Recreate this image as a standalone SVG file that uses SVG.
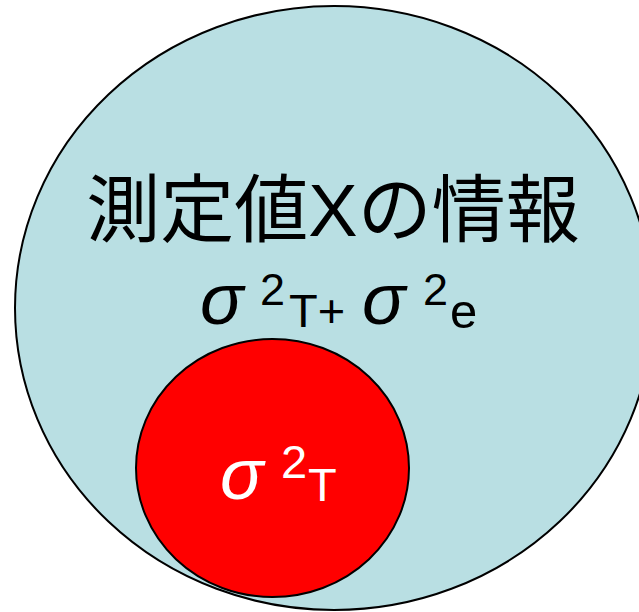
<svg xmlns="http://www.w3.org/2000/svg" width="639" height="612" viewBox="0 0 639 612">
<style>
.t{font-family:"Liberation Sans","Noto Sans CJK JP",sans-serif;fill:#000}
.w{fill:#fff}
.sg{font-style:italic}
</style>
<rect width="639" height="612" fill="#fff"/>
<g id="outer">
<ellipse cx="334" cy="308" rx="319" ry="302" fill="#B9DFE3" stroke="#000" stroke-width="2"/>
<text class="t" x="333" y="236" font-size="74" text-anchor="middle">測定値Xの情報</text>
<text class="t" font-size="72"><tspan class="sg" x="200" y="324">σ</tspan></text>
<text class="t" font-size="45" x="260" y="305">2</text>
<text class="t" font-size="47" x="289" y="327">T+</text>
<text class="t" font-size="72"><tspan class="sg" x="362" y="324">σ</tspan></text>
<text class="t" font-size="45" x="423" y="305">2</text>
<text class="t" font-size="49" x="450" y="328">e</text>
</g>
<g id="inner">
<ellipse cx="272.5" cy="468" rx="136.5" ry="129" fill="#FF0000" stroke="#000" stroke-width="2"/>
<text class="t w" font-size="72"><tspan class="sg" x="220" y="499">σ</tspan></text>
<text class="t w" font-size="47" x="281" y="478">2</text>
<text class="t w" font-size="47" x="308" y="501">T</text>
</g>
</svg>
